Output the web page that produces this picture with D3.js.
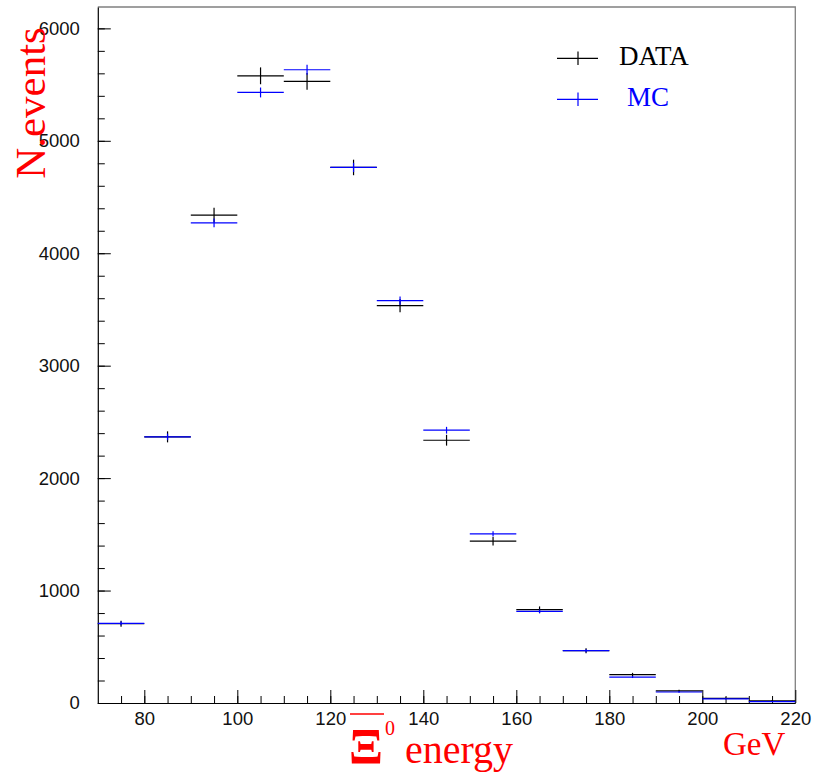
<!DOCTYPE html>
<html>
<head>
<meta charset="utf-8">
<script src="https://cdn.jsdelivr.net/npm/d3@7"></script>
<style>
  html, body { margin: 0; padding: 0; background: #fff; }
  svg { display: block; }
  .tick text { font-family: "Liberation Sans", Arial, sans-serif; font-size: 18.5px; fill: #111; }
</style>
</head>
<body>
<svg id="chart" width="824" height="774"></svg>
<script>
// Ξ0 energy spectrum: 10 GeV bins from 70 to 220 GeV
const binLow   = [70, 80, 90, 100, 110, 120, 130, 140, 150, 160, 170, 180, 190, 200, 210];
const binWidth = 10;

const dataCounts = [705, 2367, 4339, 5578, 5528, 4763, 3535, 2337, 1439, 830, 465, 252, 107, 42, 20];
const dataErrors = [27, 49, 66, 75, 74, 69, 59, 48, 38, 29, 22, 16, 10, 6, 4];

const mcCounts = [708, 2367, 4270, 5430, 5632, 4763, 3579, 2426, 1504, 814, 465, 231, 98, 36, 12];
const mcErrors = [16, 29, 39, 44, 45, 41, 36, 30, 23, 17, 13, 9, 6, 4, 2];

const yMajorTicks = [0, 1000, 2000, 3000, 4000, 5000, 6000];
const xMajorTicks = [80, 100, 120, 140, 160, 180, 200, 220];

const series = [
  { name: "DATA", counts: dataCounts, errors: dataErrors, color: "#000000" },
  { name: "MC",   counts: mcCounts,   errors: mcErrors,   color: "#0000ff" }
];

const svg = d3.select("#chart");

const x = d3.scaleLinear().domain([70, 220]).range([97.8, 795.3]);
const y = d3.scaleLinear().domain([0, 6190]).range([703, 7]);

// frame (top and right edges)
svg.append("path")
  .attr("d", `M${x(70)},${y(6190)}H${x(220)}V${y(0)}`)
  .attr("fill", "none").attr("stroke", "#808080").attr("stroke-width", 1.3);

// y axis: minor ticks every 200, major every 1000, ticks pointing inward
const yMinor = d3.range(0, 6190, 200);
svg.append("g").attr("transform", `translate(${x(70)},0)`)
  .call(d3.axisLeft(y).tickValues(yMinor).tickSize(-7).tickSizeOuter(0).tickFormat(""))
  .call(g => g.selectAll("line").attr("stroke", "#000"))
  .call(g => g.select(".domain").attr("stroke", "#000").attr("stroke-width", 1.2));
svg.append("g").attr("transform", `translate(${x(70)},0)`)
  .call(d3.axisLeft(y).tickValues(yMajorTicks).tickSize(-13).tickSizeOuter(0).tickPadding(18).tickFormat(d3.format("d")))
  .call(g => g.select(".domain").remove())
  .call(g => g.selectAll("line").attr("stroke", "#000"));

// x axis: minor ticks every 5, major every 20
const xMinor = d3.range(75, 220, 5);
svg.append("g").attr("transform", `translate(0,${y(0)})`)
  .call(d3.axisBottom(x).tickValues(xMinor).tickSize(-7).tickSizeOuter(0).tickFormat(""))
  .call(g => g.selectAll("line").attr("stroke", "#000"))
  .call(g => g.select(".domain").attr("stroke", "#000").attr("stroke-width", 1.2));
svg.append("g").attr("transform", `translate(0,${y(0)})`)
  .call(d3.axisBottom(x).tickValues(xMajorTicks).tickSize(-13).tickSizeOuter(0).tickPadding(9).tickFormat(d3.format("d")))
  .call(g => g.select(".domain").remove())
  .call(g => g.selectAll("line").attr("stroke", "#000"));

// histogram points: horizontal bin width + vertical error bar
series.forEach(s => {
  const g = svg.append("g").attr("stroke", s.color).attr("stroke-width", 1.2).attr("fill", "none");
  binLow.forEach((lo, i) => {
    const c = lo + binWidth / 2;
    g.append("line")
      .attr("x1", x(lo)).attr("x2", x(lo + binWidth))
      .attr("y1", y(s.counts[i])).attr("y2", y(s.counts[i]));
    g.append("line")
      .attr("x1", x(c)).attr("x2", x(c))
      .attr("y1", y(s.counts[i] - s.errors[i])).attr("y2", y(s.counts[i] + s.errors[i]));
  });
});

// legend
const legend = [
  { name: "DATA", color: "#000000", ly: 58.3, tx: 619, ty: 65 },
  { name: "MC",   color: "#0000ff", ly: 99.3, tx: 627, ty: 106 }
];
legend.forEach(l => {
  svg.append("line").attr("x1", 557).attr("x2", 598).attr("y1", l.ly).attr("y2", l.ly)
    .attr("stroke", l.color).attr("stroke-width", 1.2);
  svg.append("line").attr("x1", 578).attr("x2", 578).attr("y1", l.ly - 6.7).attr("y2", l.ly + 6.7)
    .attr("stroke", l.color).attr("stroke-width", 1.2);
  svg.append("text").attr("x", l.tx).attr("y", l.ty)
    .attr("font-family", "'Liberation Serif', 'Times New Roman', serif")
    .attr("font-size", 27).attr("fill", l.color).text(l.name);
});

// axis titles
const serif = "'Liberation Serif', 'Times New Roman', serif";
svg.append("text")
  .attr("transform", "translate(45,103) rotate(-90)")
  .attr("text-anchor", "middle")
  .attr("font-family", serif).attr("font-size", 43).attr("fill", "#ff0000")
  .text("N.events");

// anti-Xi symbol with overline and superscript 0
svg.append("line").attr("x1", 350).attr("x2", 384).attr("y1", 714).attr("y2", 714)
  .attr("stroke", "#ff0000").attr("stroke-width", 1.3);
svg.append("text").attr("x", 349).attr("y", 763)
  .attr("font-family", serif).attr("font-size", 50).attr("font-weight", "bold")
  .attr("fill", "#ff0000").text("Ξ");
svg.append("text").attr("x", 385).attr("y", 735)
  .attr("font-family", serif).attr("font-size", 20).attr("fill", "#ff0000").text("0");
svg.append("text").attr("x", 405).attr("y", 763)
  .attr("font-family", serif).attr("font-size", 40).attr("fill", "#ff0000").text("energy");
svg.append("text").attr("x", 723).attr("y", 755)
  .attr("font-family", serif).attr("font-size", 33).attr("fill", "#ff0000").text("GeV");
</script>
</body>
</html>
